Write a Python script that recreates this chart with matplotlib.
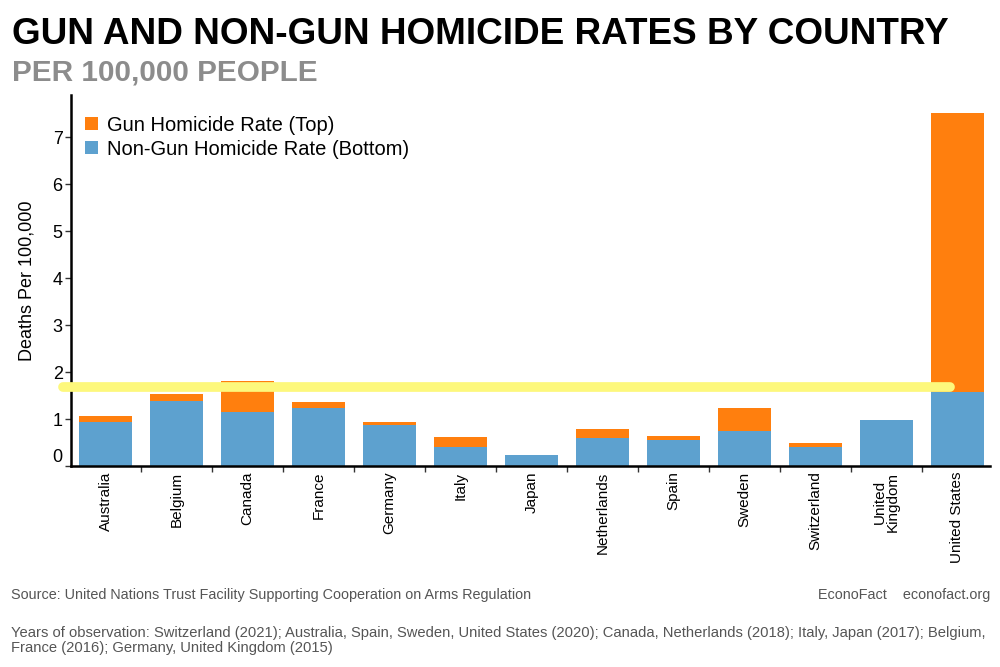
import matplotlib
matplotlib.use("Agg")
import matplotlib.pyplot as plt
import numpy as np

plt.rcParams['font.family'] = ['Liberation Sans', 'DejaVu Sans']

countries = ["Australia", "Belgium", "Canada", "France", "Germany", "Italy", "Japan",
             "Netherlands", "Spain", "Sweden", "Switzerland", "United\nKingdom", "United States"]
non_gun = [0.94, 1.38, 1.14, 1.23, 0.88, 0.41, 0.23, 0.60, 0.55, 0.75, 0.40, 0.97, 1.58]
gun = [0.13, 0.16, 0.67, 0.14, 0.06, 0.21, 0.01, 0.18, 0.09, 0.48, 0.10, 0.02, 5.93]
yticks = [0, 1, 2, 3, 4, 5, 6, 7]
highlight_y = 1.68

ORANGE = "#ff7f0e"
BLUE = "#5da1cf"
YELLOW = "#fdf87c"

fig = plt.figure(figsize=(10, 6.67), dpi=100)
ax = fig.add_axes([0.071, 0.3013, 0.919, 0.5563])

x = np.arange(len(countries))
ax.bar(x, non_gun, width=0.75, color=BLUE, label="Non-Gun Homicide Rate (Bottom)", zorder=2)
ax.bar(x, gun, width=0.75, bottom=non_gun, color=ORANGE, label="Gun Homicide Rate (Top)", zorder=2)

ax.plot([-0.60, 11.90], [highlight_y, highlight_y], color=YELLOW, lw=7,
        solid_capstyle='round', clip_on=False, zorder=3)

ax.set_xlim(-0.49, 12.46)
ax.set_ylim(0, 7.9)
ax.set_xticks(x)
ax.set_xticklabels(countries, rotation=90, fontsize=11, va='top', ha='center', linespacing=0.95)
ax.tick_params(axis='x', length=0, pad=4)
ax.set_xticks(np.arange(len(countries) - 1) + 0.5, minor=True)
ax.tick_params(axis='x', which='minor', length=4, width=1, color='#333333')

ax.set_yticks(yticks)
ax.set_yticklabels([str(v) for v in yticks], fontsize=13)
ax.tick_params(axis='y', length=4, width=1, color='#333333', pad=2)
ax.get_yticklabels()[0].set_va('bottom')
ax.set_ylabel("Deaths Per 100,000", fontsize=13, labelpad=12)

for s in ['top', 'right']:
    ax.spines[s].set_visible(False)
for s in ['left', 'bottom']:
    ax.spines[s].set_linewidth(1.8)
    ax.spines[s].set_color('black')

h, l = ax.get_legend_handles_labels()
ax.legend(h[::-1], l[::-1], loc='upper left', bbox_to_anchor=(-0.004, 0.993), frameon=False,
          fontsize=14.5, handlelength=0.6, handleheight=0.6, handletextpad=0.45,
          labelspacing=0.25, borderaxespad=0.5)

fig.text(0.012, 0.948, "GUN AND NON-GUN HOMICIDE RATES BY COUNTRY", fontsize=26.6,
         fontweight='bold', color='black', va='center', ha='left')
fig.text(0.012, 0.892, "PER 100,000 PEOPLE", fontsize=21.4, fontweight='bold',
         color='#8c8c8c', va='center', ha='left')

fig.text(0.011, 0.108, "Source: United Nations Trust Facility Supporting Cooperation on Arms Regulation",
         fontsize=10.4, color='#555555', va='center', ha='left')
fig.text(0.99, 0.108, "EconoFact    econofact.org", fontsize=10.4, color='#555555',
         va='center', ha='right')
fig.text(0.011, 0.040,
         "Years of observation: Switzerland (2021); Australia, Spain, Sweden, United States (2020); Canada, Netherlands (2018); Italy, Japan (2017); Belgium,\nFrance (2016); Germany, United Kingdom (2015)",
         fontsize=10.6, color='#555555', va='center', ha='left', linespacing=1.05)

fig.savefig("out.png", dpi=100)
